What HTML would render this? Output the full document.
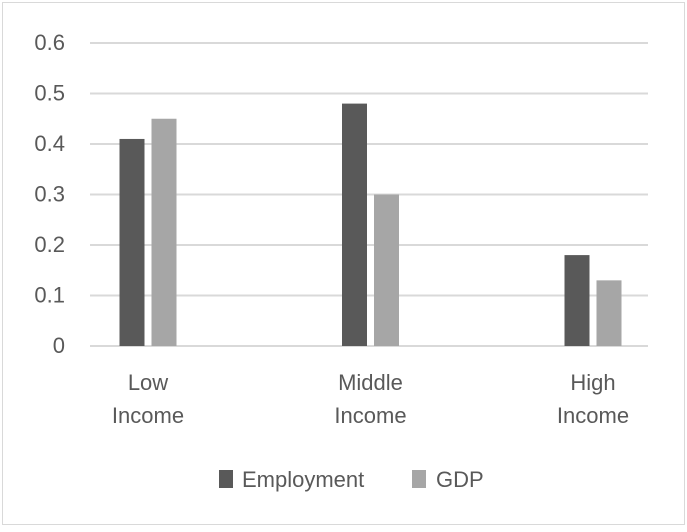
<!DOCTYPE html>
<html><head><meta charset="utf-8"><style>
body{margin:0;background:#fff;}
svg text{font-family:"Liberation Sans",sans-serif;fill:#595959;}
</style></head><body>
<svg width="687" height="527" xmlns="http://www.w3.org/2000/svg">
<rect x="2.5" y="2.5" width="682" height="522" fill="#fff" stroke="#d9d9d9"/>
<g id="grid"></g><g id="bars"></g><g id="labels"></g>
<g>
<rect x="219" y="470" width="14" height="18" fill="#595959"/>
<text x="242" y="487" font-size="22">Employment</text>
<rect x="412" y="470" width="14" height="18" fill="#a6a6a6"/>
<text x="436" y="487" font-size="22">GDP</text>
</g>
</svg>
<script>
const categories=[["Low","Income"],["Middle","Income"],["High","Income"]];
const employment=[0.41,0.48,0.18];
const gdp=[0.45,0.30,0.13];
const ticks=[0,0.1,0.2,0.3,0.4,0.5,0.6];
const NS="http://www.w3.org/2000/svg";
const x0=90,x1=648,yBase=346,yTop=43,yMax=0.6;
const y=v=>yBase-(v/yMax)*(yBase-yTop);
const cStart=148,cStep=222.5;
const cx=i=>cStart+cStep*i;
function mk(tag,attrs,parent){const e=document.createElementNS(NS,tag);for(const k in attrs)e.setAttribute(k,attrs[k]);parent.appendChild(e);return e;}
const grid=document.getElementById('grid'),bars=document.getElementById('bars'),labels=document.getElementById('labels');
ticks.forEach(t=>{
 const l=mk('line',{x1:x0,x2:x1,y1:y(t),y2:y(t),stroke:'#d9d9d9','stroke-width':2},grid);
 
 
 const tx=mk('text',{x:65,y:y(t)+7,'font-size':22,'text-anchor':'end'},grid);
 tx.textContent=String(t);
 
 
});
const bw=25,gap=7;
categories.forEach((c,i)=>{
 const b1=mk('rect',{x:cx(i)-gap/2-bw,y:y(employment[i]),width:bw,height:yBase-y(employment[i]),fill:'#595959'},bars);
 
 
 const b2=mk('rect',{x:cx(i)+gap/2,y:y(gdp[i]),width:bw,height:yBase-y(gdp[i]),fill:'#a6a6a6'},bars);
 
 
 c.forEach((w,j)=>{
  const t=mk('text',{x:cx(i),y:390+j*33,'font-size':22,'text-anchor':'middle'},labels);
  t.textContent=w;
  
  
 });
});
</script>
</body></html>
